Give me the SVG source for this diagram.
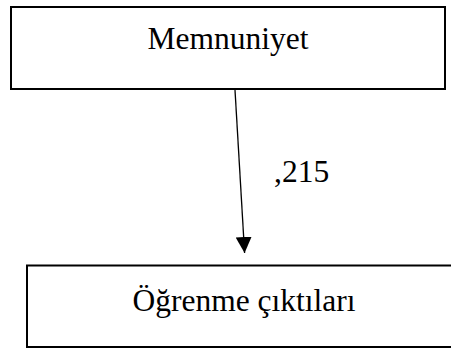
<svg xmlns="http://www.w3.org/2000/svg" width="451" height="349" viewBox="0 0 451 349">
<style>
.box{fill:#fff;stroke:#000;stroke-width:2}
.t{font-family:"Liberation Serif","Times New Roman",serif;font-size:31.5px;fill:#000}
.c{stroke:#000;stroke-width:1.3;fill:none}
</style>
<defs>
<marker id="ah" markerUnits="userSpaceOnUse" markerWidth="18" markerHeight="18" refX="16" refY="8" orient="auto">
<path d="M0,0 L16,8 L0,16 Z" fill="#000"/>
</marker>
</defs>
<rect width="451" height="349" fill="#fff"/>
<g id="memnuniyet">
<rect class="box" x="11" y="7" width="434" height="82"/>
<text class="t" x="228" y="48.5" text-anchor="middle">Memnuniyet</text>
</g>
<g id="ogrenme">
<rect class="box" x="27" y="265.5" width="430" height="81.5"/>
<text class="t" x="244" y="311" text-anchor="middle">Öğrenme çıktıları</text>
</g>
<g id="connectors">
<line class="c" x1="235" y1="90" x2="244.6" y2="253" marker-end="url(#ah)"/>
<text class="t" x="274" y="182">,215</text>
</g>
</svg>
